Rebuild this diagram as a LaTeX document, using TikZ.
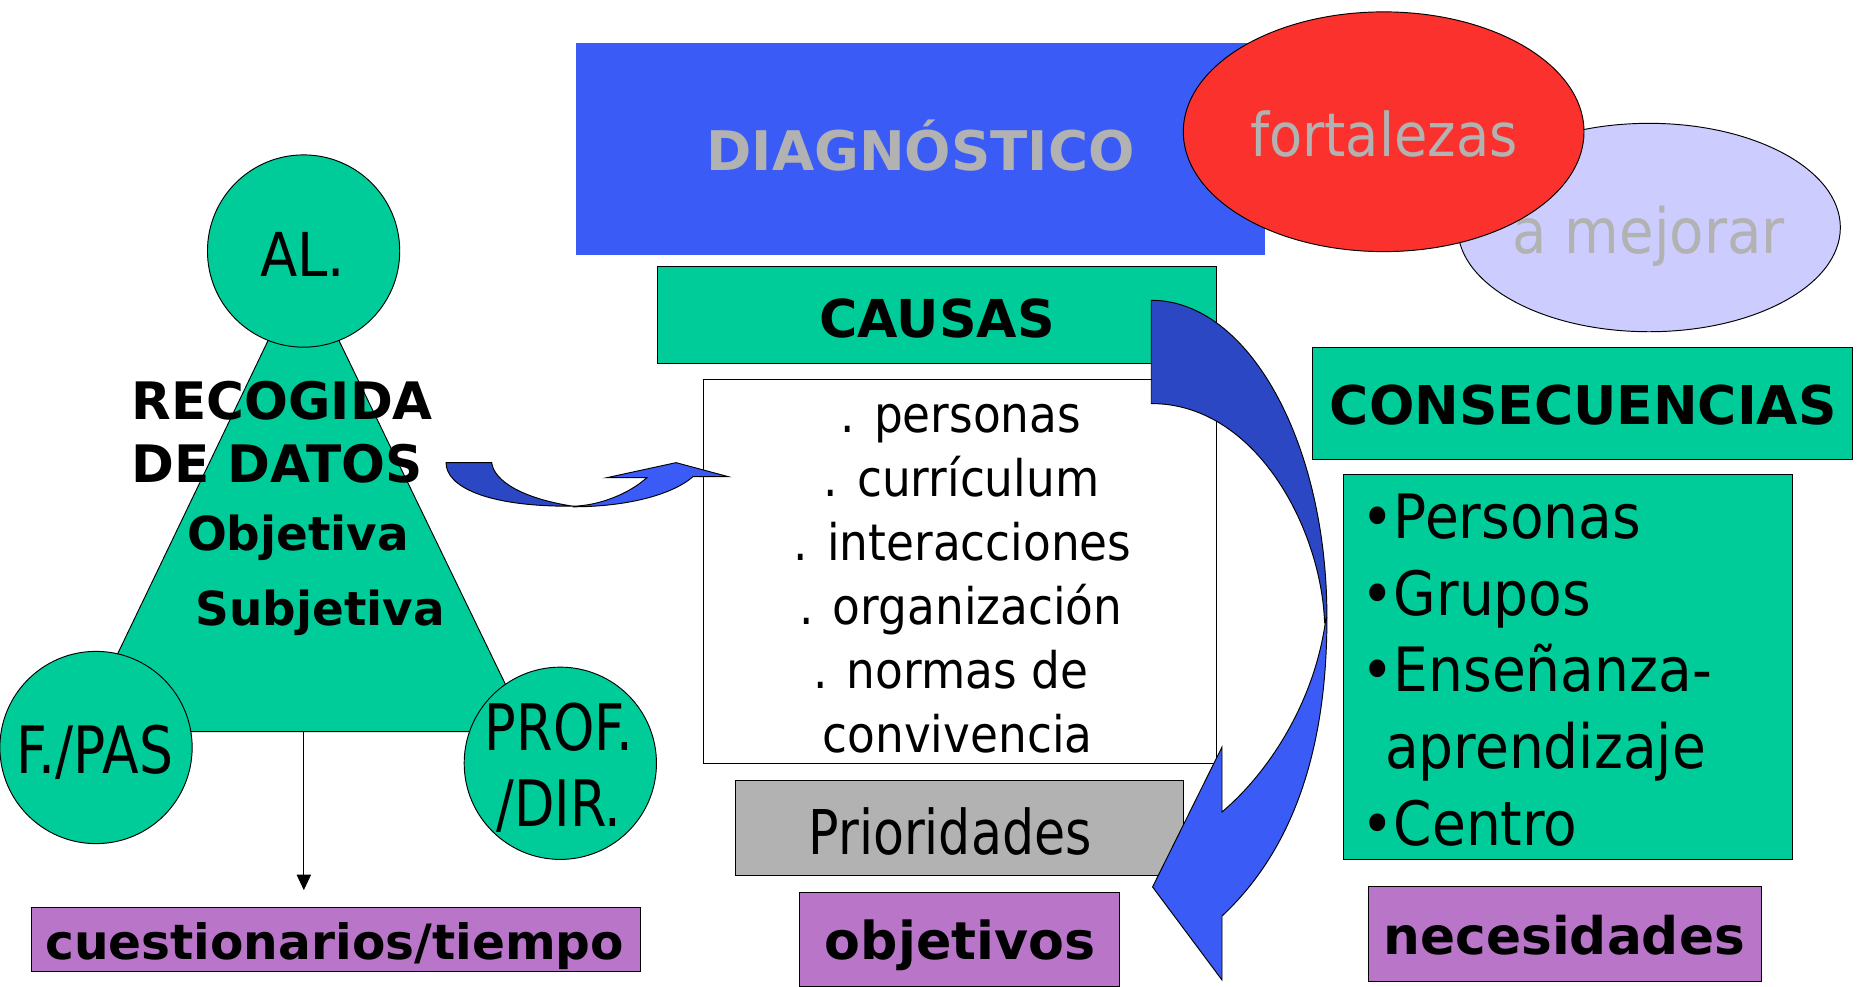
\documentclass[tikz,border=0pt]{standalone}
\usepackage{fontspec}
\setmainfont{DejaVu Sans}
\newfontfamily\estrecha{DejaVu Sans}[FakeStretch=0.9]
\newfontfamily\masestrecha{DejaVu Sans}[FakeStretch=0.82]
\usetikzlibrary{shapes.geometric, arrows.meta}
\definecolor{verde}{RGB}{0,204,153}
\definecolor{azul}{RGB}{58,91,245}
\definecolor{azuloscuro}{RGB}{43,71,196}
\definecolor{rojo}{RGB}{250,49,45}
\definecolor{lila}{RGB}{204,204,255}
\definecolor{gris}{RGB}{178,178,178}
\definecolor{morado}{RGB}{185,118,201}
\newcommand{\tam}[1]{\fontsize{#1pt}{#1pt}\selectfont}
\tikzset{
	x=0.5pt, y=-0.5pt, % one unit is one pixel of the slide, y grows downwards
	line width=0.75pt, % thin black outlines everywhere
	every node/.style={inner sep=0pt, outer sep=0pt},
	caja/.style={draw, rectangle}, % plain boxes
	circulo/.style={draw, circle, fill=verde, minimum size=81pt}, % the three groups
	elipse/.style={draw, ellipse},
	negra/.style={font=\bfseries\tam{#1}}, % bold headings
	fina/.style={font=\estrecha\tam{#1}}, % narrow text
	muyfina/.style={font=\masestrecha\tam{#1}}, % narrower text
	punta/.style={-{Triangle[width=6pt,length=6.5pt]}},
}
\begin{document}
\begin{tikzpicture}
	\useasboundingbox (0,0) rectangle (1568,831);
	% recogida de datos
	\coordinate (vert) at (255.6,225);
	\coordinate (izq) at (67.6,616.5);
	\coordinate (der) at (445.2,616.5);
	\filldraw[fill=verde] (vert) -- (izq) -- (der) -- cycle;
	\node[circulo] (al) at (255.8,211.5) {};
	\node[circulo] (pas) at (80.9,629.8) {};
	\node[circulo] (prof) at (472.1,643.1) {};
	\node[fina=25.5, anchor=base] (altxt) at (255,233.1) {AL.};
	\node[muyfina=27.5, anchor=base] (pastxt) at (80,651.6) {F./PAS};
	\node[muyfina=27, anchor=base] (proftxt) at (471,632.5) {PROF.};
	\node[muyfina=27, anchor=base] (dirtxt) at (471,696.5) {/DIR.};
	\node[negra=21.75, anchor=base west] (rec1) at (111,353.3) {RECOGIDA};
	\node[negra=21.75, anchor=base west] (rec2) at (111,406.4) {DE DATOS};
	\node[negra=19.75, anchor=base] (obj) at (251.1,463.4) {Objetiva};
	\node[negra=19.75, anchor=base] (subj) at (269.7,526.6) {Subjetiva};
	\coordinate (base) at (256,616.5);
	\coordinate (llegada) at (256,750);
	\draw[punta] (base) -- (llegada);
	\node[caja, fill=morado, minimum width=256.7pt, minimum height=27.1pt] (cuest) at (283,791.6) {};
	\node[negra=20.5, anchor=base] (cuesttxt) at (282,808.8) {cuestionarios/tiempo};
	%
	% diagnostico
	\node[caja, draw=none, fill=azul, minimum width=290.25pt, minimum height=89.4pt] (diag) at (775.5,125.4) {};
	\node[negra=23, text=gris, anchor=base] (diagtxt) at (775.6,143.8) {DIAGNÓSTICO};
	\node[elipse, fill=lila, minimum width=161.2pt, minimum height=87.8pt] (mej) at (1389.4,191.7) {};
	\node[fina=26.3, text=gris, anchor=base] (mejtxt) at (1389,213.5) {a mejorar};
	\node[elipse, fill=rojo, minimum width=168.8pt, minimum height=101pt] (fort) at (1165.8,111) {};
	\node[fina=25.4, text=gris, anchor=base] (forttxt) at (1166,132) {fortalezas};
	%
	% causas
	\node[caja, fill=verde, minimum width=235.6pt, minimum height=40.7pt] (causas) at (789.4,265.4) {};
	\node[negra=22, anchor=base] (causastxt) at (789.5,284) {CAUSAS};
	\node[caja, fill=white, minimum width=215.95pt, minimum height=161.75pt] (lista) at (808.6,481.4) {};
	\node[fina=21.25, anchor=base] (l1) at (809.5,364) {. personas};
	\node[fina=21.25, anchor=base] (l2) at (810,418) {. currículum};
	\node[fina=21.25, anchor=base] (l3) at (811,472) {. interacciones};
	\node[fina=21.25, anchor=base] (l4) at (809.5,526) {. organización};
	\node[fina=21.25, anchor=base] (l5) at (801,580) {. normas de};
	\node[fina=21.25, anchor=base] (l6) at (806.7,634) {convivencia};
	\node[caja, fill=gris, minimum width=188.6pt, minimum height=40.1pt] (prior) at (808.5,697.9) {};
	\node[muyfina=26, anchor=base] (priortxt) at (800.5,720) {Prioridades};
	\node[caja, fill=morado, minimum width=134.8pt, minimum height=39.4pt] (objet) at (808.5,791.6) {};
	\node[negra=22, anchor=base] (objettxt) at (809,808.8) {objetivos};
	%
	% consecuencias
	\node[caja, fill=verde, minimum width=227.6pt, minimum height=47.05pt] (consec) at (1333.1,340) {};
	\node[negra=22.5, anchor=base] (consectxt) at (1334,358) {CONSECUENCIAS};
	\node[caja, fill=verde, minimum width=189.1pt, minimum height=161.85pt] (efectos) at (1320.9,561.9) {};
	\node[fina=25.75, anchor=base west] (e1) at (1147,453.6) {•Personas};
	\node[fina=25.75, anchor=base west] (e2) at (1147,518.2) {•Grupos};
	\node[fina=25.75, anchor=base west] (e3) at (1147,582.8) {•Enseñanza-};
	\node[fina=25.75, anchor=base west] (e4) at (1167,647.4) {aprendizaje};
	\node[fina=25.75, anchor=base west] (e5) at (1147,712) {•Centro};
	\node[caja, fill=morado, minimum width=165.75pt, minimum height=40.25pt] (necs) at (1318.4,787) {};
	\node[negra=21.8, anchor=base] (necstxt) at (1318,804.6) {necesidades};
	%
	% flecha grande
	\filldraw[fill=azuloscuro] (970,253) .. controls (1052,253) and (1118,373) .. (1118,520)
		-- (1116,524) .. controls (1113,445) and (1058,340) .. (970,340) -- cycle;
	\filldraw[fill=azul] (1118,521) .. controls (1118,640) and (1085,720) .. (1029.6,771.8)
		-- (1029.6,825.7) -- (971.1,747.3) -- (1029.6,629.4) -- (1029.6,684.1)
		.. controls (1070,650) and (1108,590) .. (1117,522) -- cycle;
	% flecha pequena
	\filldraw[fill=azuloscuro] (375.8,389.8) -- (414.3,389.8) .. controls (416,405) and (440,420) .. (482.8,426.5)
		.. controls (410,427) and (375.8,410) .. (375.8,389.8) -- cycle;
	\filldraw[fill=azul] (482.8,427) .. controls (525,427) and (565,418) .. (583.9,401.6)
		-- (613.6,401.6) -- (569.6,389.8) -- (511.1,402.5) -- (544.9,402.5)
		.. controls (530,416) and (505,426) .. (482.8,426.5) -- cycle;
\end{tikzpicture}
\end{document}
